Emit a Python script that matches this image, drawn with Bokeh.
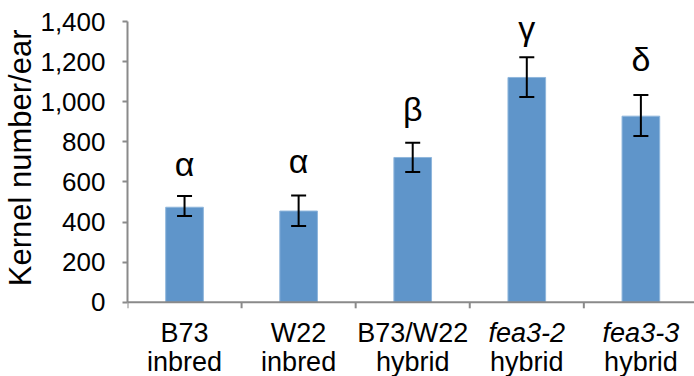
from bokeh.plotting import figure
from bokeh.models import (ColumnDataSource, Whisker, TeeHead, FixedTicker,
                          NumeralTickFormatter, Range1d, Title)
from bokeh.core.properties import value
from bokeh.embed import file_html
from bokeh.resources import INLINE

line1 = ["B73", "W22", "B73/W22", "fea3-2", "fea3-3"]
line1_style = ["normal", "normal", "normal", "italic", "italic"]
line2 = ["inbred", "inbred", "hybrid", "hybrid", "hybrid"]
means = [474, 455, 722, 1121, 928]
err_lo = [430, 380, 650, 1024, 829]
err_hi = [530, 532, 795, 1222, 1034]
letters = ["α", "α", "β", "γ", "δ"]
letter_y = [690, 705, 963, 1367, 1215]
y_ticks = [0, 200, 400, 600, 800, 1000, 1200, 1400]
cat_edges = [0, 1, 2, 3, 4, 5]

FONT = "Liberation Sans"
XMAX = 4.97
YMIN = -370
xs = [i + 0.5 for i in range(len(means))]

src = ColumnDataSource(dict(x=xs, top=means, lo=err_lo, hi=err_hi,
                            let=letters, ly=letter_y,
                            l1=line1, st=line1_style, l2=line2,
                            y1=[-155] * len(xs), y2=[-300] * len(xs)))

p = figure(width=694, height=376, output_backend="svg", toolbar_location=None,
           x_range=Range1d(0, XMAX), y_range=Range1d(YMIN, 1400),
           x_axis_location=None,
           min_border_left=125, min_border_right=0, min_border_top=21,
           min_border_bottom=0)
p.outline_line_color = None
p.grid.visible = False

axis_color = "#8a8a8a"

p.vbar(x="x", top="top", width=0.33, source=src, fill_color="#5f95ca",
       line_color="#8fb6dc", line_width=1)

w = Whisker(base="x", lower="lo", upper="hi", source=src, level="overlay",
            line_color="black", line_width=2,
            upper_head=TeeHead(size=15, line_color="black", line_width=2),
            lower_head=TeeHead(size=15, line_color="black", line_width=2))
p.add_layout(w)

p.text(x="x", y="ly", text="let", source=src, text_align="center",
       text_baseline="middle", text_font=value(FONT),
       text_font_size="34px", text_color="black")

# x axis line and category boundary ticks (drawn at y = 0)
p.segment(x0=[0], y0=[0], x1=[XMAX], y1=[0], line_color=axis_color,
          line_width=2)
p.segment(x0=cat_edges, y0=[0] * len(cat_edges), x1=cat_edges,
          y1=[-30] * len(cat_edges), line_color=axis_color, line_width=2)

# category labels
p.text(x="x", y="y1", text="l1", source=src, text_align="center",
       text_baseline="middle", text_font=value(FONT), text_font_size="27px",
       text_font_style="st", text_color="black")
p.text(x="x", y="y2", text="l2", source=src, text_align="center",
       text_baseline="middle", text_font=value(FONT), text_font_size="27px",
       text_color="black")

# y axis
p.yaxis.ticker = FixedTicker(ticks=y_ticks)
p.yaxis.bounds = (0, 1400)
p.yaxis.formatter = NumeralTickFormatter(format="0,0")
p.yaxis.axis_line_color = axis_color
p.yaxis.axis_line_width = 2
p.yaxis.major_tick_line_color = axis_color
p.yaxis.major_tick_line_width = 2
p.yaxis.major_tick_out = 5
p.yaxis.major_tick_in = 0
p.yaxis.minor_tick_line_color = None
p.yaxis.major_label_text_font = FONT
p.yaxis.major_label_text_font_size = "26px"
p.yaxis.major_label_text_color = "black"
p.yaxis.major_label_standoff = 17

ylab = Title(text="Kernel number/ear", align="right", offset=8,
             text_font=FONT, text_font_size="31px", text_font_style="normal",
             text_color="black", standoff=0)
p.add_layout(ylab, "left")

open("out.html", "w").write(file_html(p, INLINE))
